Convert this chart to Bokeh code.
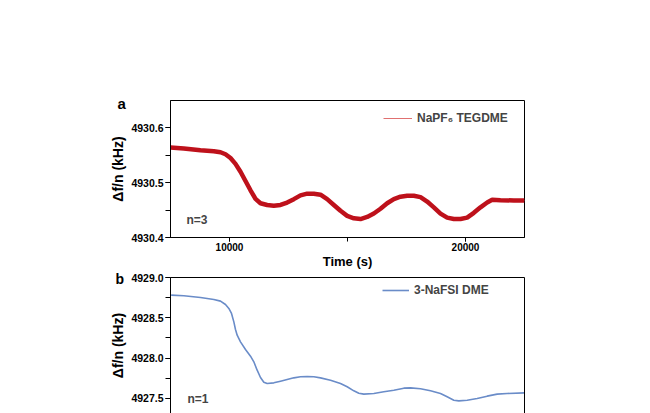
from bokeh.plotting import figure
from bokeh.models import (Range1d, SingleIntervalTicker, NumeralTickFormatter, Legend,
                          LegendItem, Label, LinearAxis, FixedTicker, Title)
from bokeh.layouts import column
from bokeh.embed import file_html
from bokeh.resources import INLINE

FONT = "Liberation Sans"

# ---- panel a data (NaPF6 TEGDME, n=3) ----
time_a = [7500, 8065, 8771, 9336, 9619, 9830, 10042, 10254, 10466, 10678, 10890, 11102,
          11313, 11596, 11878, 12161, 12443, 12726, 13008, 13291, 13573, 13856, 14138,
          14421, 14703, 14986, 15268, 15551, 15833, 16116, 16398, 16681, 16963, 17246,
          17528, 17811, 18093, 18375, 18658, 18940, 19223, 19505, 19788, 20070, 20353,
          20635, 20918, 21130, 21483, 22048, 22500]
df_a = [4930.5644, 4930.5625, 4930.5594, 4930.5575, 4930.5556, 4930.5519, 4930.5450,
        4930.5344, 4930.5200, 4930.5031, 4930.4862, 4930.4706, 4930.4625, 4930.4594,
        4930.4581, 4930.4594, 4930.4638, 4930.4700, 4930.4769, 4930.4800, 4930.4800,
        4930.4781, 4930.4700, 4930.4594, 4930.4487, 4930.4394, 4930.4350, 4930.4337,
        4930.4375, 4930.4437, 4930.4525, 4930.4625, 4930.4700, 4930.4744, 4930.4762,
        4930.4762, 4930.4737, 4930.4656, 4930.4550, 4930.4437, 4930.4362, 4930.4337,
        4930.4337, 4930.4362, 4930.4450, 4930.4550, 4930.4638, 4930.4687, 4930.4681,
        4930.4675, 4930.4675]
label_a = "NaPF\u2086 TEGDME"

# ---- panel b data (3-NaFSI DME, n=1) ----
time_b = [7528, 8065, 8771, 9336, 9619, 9830, 9972, 10085, 10184, 10254, 10325, 10466,
          10678, 10890, 11031, 11172, 11313, 11455, 11596, 11878, 12161, 12443, 12726,
          13008, 13291, 13573, 13856, 14280, 14703, 14986, 15268, 15480, 15692, 16116,
          16539, 16963, 17387, 17669, 18093, 18517, 18940, 19223, 19505, 19717, 20070,
          20494, 20918, 21342, 21765, 22500]
df_b = [4928.781, 4928.773, 4928.752, 4928.727, 4928.707, 4928.665, 4928.616, 4928.554,
        4928.450, 4928.355, 4928.285, 4928.202, 4928.107, 4928.025, 4927.955, 4927.851,
        4927.760, 4927.702, 4927.686, 4927.694, 4927.715, 4927.736, 4927.756, 4927.769,
        4927.773, 4927.769, 4927.756, 4927.727, 4927.686, 4927.645, 4927.595, 4927.566,
        4927.554, 4927.562, 4927.583, 4927.603, 4927.628, 4927.632, 4927.620, 4927.595,
        4927.562, 4927.521, 4927.479, 4927.471, 4927.479, 4927.500, 4927.529, 4927.554,
        4927.562, 4927.570]
label_b = "3-NaFSI DME"

y_title = "\u0394f/n (kHz)"
x_title = "Time (s)"

RED = "#be111b"
PINK = "#e07070"
BLUE = "#6a8cc8"


def style_axis(ax, size="10.5px"):
    ax.major_label_text_font = FONT
    ax.major_label_text_font_style = "bold"
    ax.major_label_text_font_size = size
    ax.major_label_text_color = "black"
    ax.axis_label_text_font = FONT
    ax.axis_label_text_font_style = "bold"
    ax.axis_label_text_color = "black"
    ax.axis_line_color = "black"
    ax.major_tick_line_color = "black"
    ax.minor_tick_line_color = "black"
    ax.major_tick_in = 0
    ax.minor_tick_in = 0
    ax.major_tick_out = 5
    ax.minor_tick_out = 5


def panel_title(txt, offset, standoff, size="15px"):
    return Title(text=txt, align="left", offset=offset, standoff=standoff, text_font=FONT,
                 text_font_style="bold", text_font_size=size, text_color="black")


# ---------------- panel a ----------------
p1 = figure(width=642, height=271, output_backend="svg", toolbar_location=None,
            x_range=Range1d(7500, 22500), y_range=Range1d(4930.4, 4930.65),
            min_border_top=100, min_border_left=170, min_border_right=118, min_border_bottom=33)
p1.grid.visible = False
p1.outline_line_color = "black"
p1.outline_line_alpha = 1
p1.background_fill_color = "white"
p1.border_fill_color = "white"
p1.title = panel_title("a", -53, -22)

p1.xaxis.ticker = SingleIntervalTicker(interval=10000, num_minor_ticks=2)
p1.yaxis.ticker = SingleIntervalTicker(interval=0.1, num_minor_ticks=2)
p1.yaxis.formatter = NumeralTickFormatter(format="0.0")
p1.xaxis.formatter = NumeralTickFormatter(format="0")
style_axis(p1.xaxis[0], "10px")
style_axis(p1.yaxis[0])
p1.xaxis.major_tick_out = 4
p1.xaxis.minor_tick_out = 4
p1.xaxis.axis_label = x_title
p1.xaxis.axis_label_text_font_size = "13px"
p1.xaxis.axis_label_standoff = 0
p1.xaxis.major_label_standoff = 1
p1.yaxis.axis_label = y_title
p1.yaxis.axis_label_text_font_size = "14px"
p1.yaxis.axis_label_standoff = 2
p1.yaxis.major_label_standoff = 2

leg_a = p1.line(time_a, df_a, line_color=PINK, line_width=1)
p1.line(time_a, df_a, line_color=RED, line_width=4.5)
legend_a = Legend(items=[LegendItem(label=label_a, renderers=[leg_a])],
                  location=(213, 112), border_line_color=None, background_fill_alpha=0,
                  padding=0, margin=0, spacing=0, glyph_width=29, glyph_height=12,
                  label_height=12, label_standoff=5, label_text_font=FONT,
                  label_text_font_style="bold", label_text_font_size="12px")
p1.add_layout(legend_a, "center")
p1.add_layout(Label(x=16, y=18, x_units="screen", y_units="screen", text="n=3",
                    text_font=FONT, text_font_style="bold", text_font_size="12px",
                    text_baseline="middle"))

# ---------------- panel b ----------------
p2 = figure(width=642, height=142, output_backend="svg", toolbar_location=None,
            x_range=Range1d(7500, 22500), y_range=Range1d(4927.314, 4929.0),
            x_axis_location=None,
            min_border_top=6, min_border_left=170, min_border_right=118, min_border_bottom=0)
p2.grid.visible = False
p2.outline_line_color = None
p2.background_fill_color = "white"
p2.border_fill_color = "white"
p2.title = panel_title("b", -55, -19, "14px")
p2.yaxis.ticker = SingleIntervalTicker(interval=0.5, num_minor_ticks=2)
p2.yaxis.formatter = NumeralTickFormatter(format="0.0")
style_axis(p2.yaxis[0])
p2.yaxis.axis_label = y_title
p2.yaxis.axis_label_text_font_size = "14px"
p2.yaxis.axis_label_standoff = 2
p2.yaxis.major_label_standoff = 2

for loc in ("above", "right"):
    ax = LinearAxis(ticker=FixedTicker(ticks=[]), major_label_standoff=0,
                    major_tick_out=0, minor_tick_out=0, major_tick_in=0, minor_tick_in=0,
                    major_label_text_font_size="0px", axis_line_color="black")
    p2.add_layout(ax, loc)

line_b = p2.line(time_b, df_b, line_color=BLUE, line_width=1.6)
legend_b = Legend(items=[LegendItem(label=label_b, renderers=[line_b])],
                  location=(212, 116), border_line_color=None, background_fill_alpha=0,
                  padding=0, margin=0, spacing=0, glyph_width=27, glyph_height=12,
                  label_height=12, label_standoff=5, label_text_font=FONT,
                  label_text_font_style="bold", label_text_font_size="12px")
p2.add_layout(legend_b, "center")
p2.add_layout(Label(x=17, y=15, x_units="screen", y_units="screen", text="n=1",
                    text_font=FONT, text_font_style="bold", text_font_size="12px",
                    text_baseline="middle"))

layout = column(p1, p2, spacing=0)
open("out.html", "w").write(file_html(layout, INLINE))
